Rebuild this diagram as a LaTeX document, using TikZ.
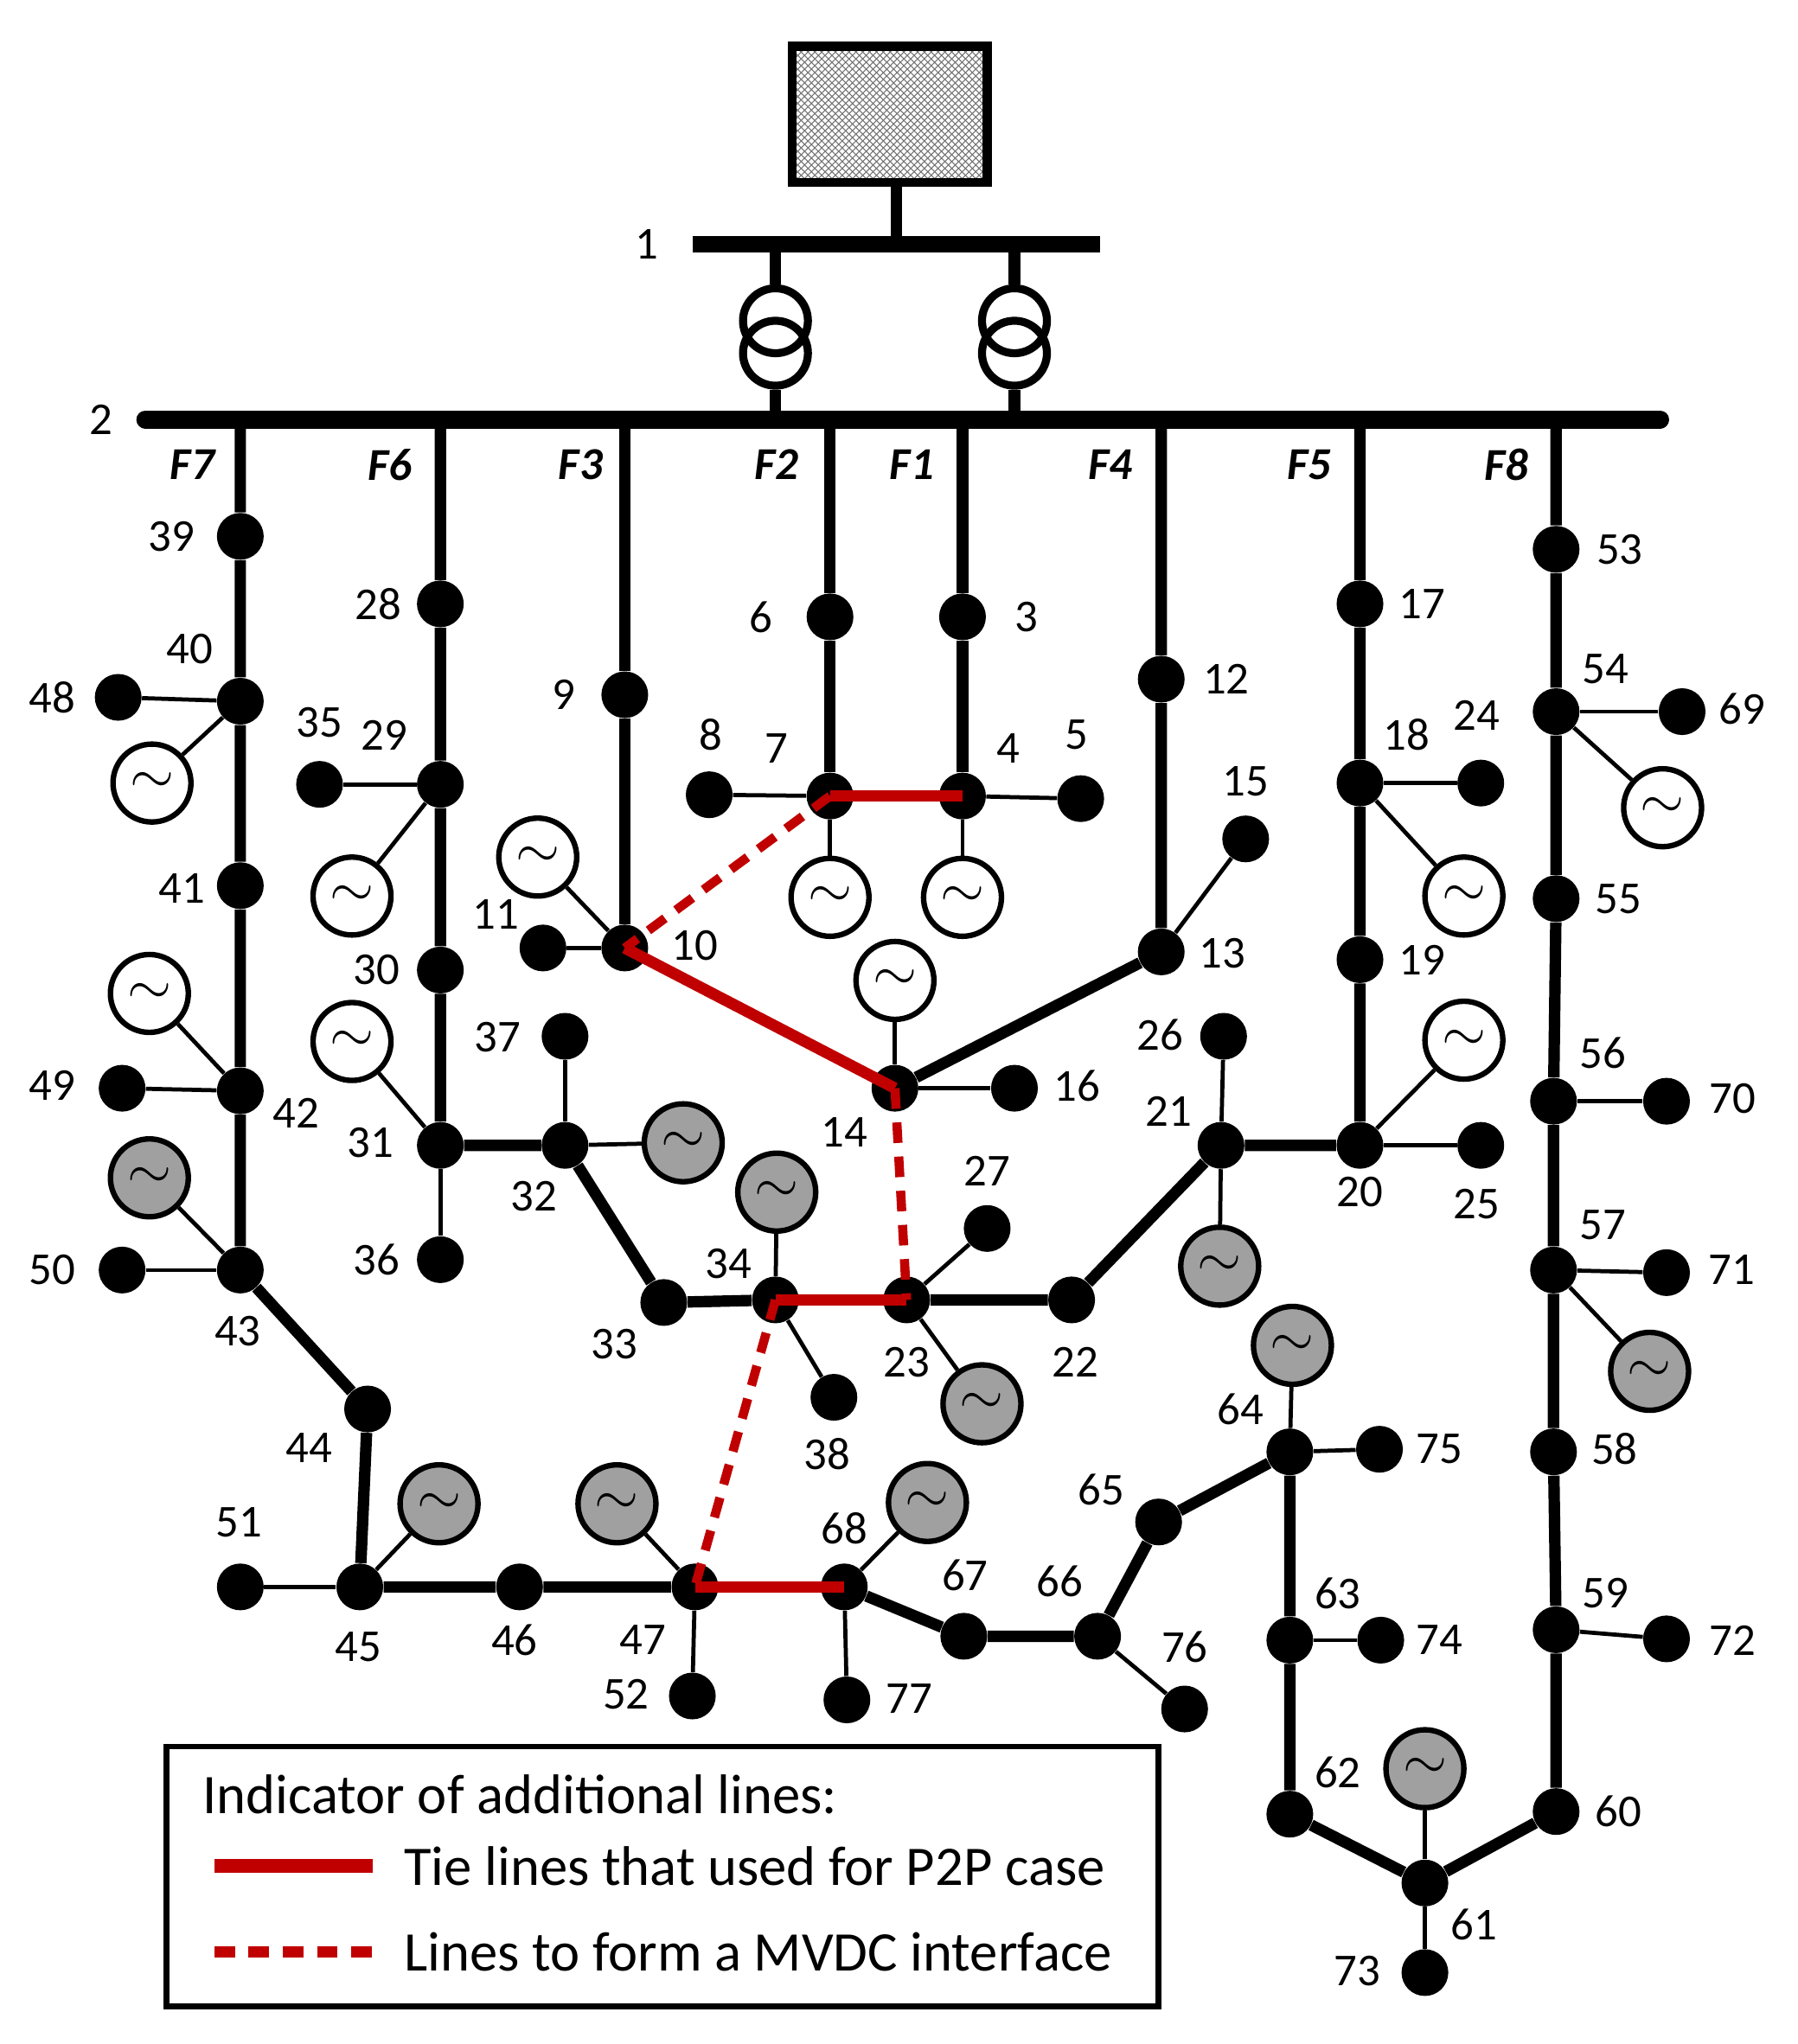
\documentclass[tikz,border=0pt]{standalone}
\usepackage{fontspec}
\setmainfont{Carlito}
\usetikzlibrary{patterns}
\definecolor{tred}{RGB}{192,0,0}
\definecolor{ggray}{RGB}{160,160,160}
\begin{document}
\begin{tikzpicture}[x=0.02cm,y=-0.02cm,
 dot/.style={circle,fill=black,inner sep=0pt,minimum size=0.72cm},
 gen/.style={circle,draw=black,line width=2.4pt,inner sep=0pt,minimum size=1.2cm,font=\fontsize{34}{34}\selectfont},
 lab/.style={font=\fontsize{20}{24}\selectfont},
 fl/.style={font=\fontsize{20}{24}\selectfont\bfseries\itshape},
 thk/.style={line width=5pt},
 thn/.style={line width=1.8pt},
 tie/.style={line width=5pt,tred},
 mv/.style={line width=4pt,tred,dash pattern=on 9pt off 6pt}]
\useasboundingbox (0,0) rectangle (1384,1574);
% substation
\node[draw,line width=4pt,fill=gray!35,pattern=crosshatch,pattern color=gray!90!black,minimum width=3.0cm,minimum height=2.1cm,inner sep=0pt] (sub) at (685,88) {};
\coordinate (b1l) at (533,188); \coordinate (b1r) at (847,188);
\coordinate (b1s) at (690,188);
\draw[line width=7pt] (b1l)--(b1r);
\draw[thk] (sub.south -| b1s)--(b1s);
\node[lab] (l1) at (498,188) {1};
\coordinate (b2l) at (112,323); \coordinate (b2r) at (1278,323);
\draw[line width=8pt,line cap=round] (b2l)--(b2r);
\node[lab] (l2) at (78,323) {2};
% transformers
\foreach \t/\x in {ta/597,tb/781}{
 \node[circle,draw,line width=3.5pt,minimum size=1.0cm,inner sep=0pt] (\t1) at (\x,247) {};
 \node[circle,draw,line width=3.5pt,minimum size=1.0cm,inner sep=0pt] (\t2) at (\x,272) {};
 \coordinate (\t u) at (\x,188); \coordinate (\t d) at (\x,323);
 \draw[thk] (\t u)--(\t1.north); \draw[thk] (\t2.south)--(\t d);
}
% feeder labels
\foreach \n/\x in {F7/148,F6/300,F3/447,F2/598,F1/702,F4/855,F5/1008,F8/1160}
 \node[fl] (\n) at (\x,358) {\n};
% dots
\foreach \n/\x/\y/\lx/\ly in {
39/185/413/132/413, 40/185/540/146/500, 48/91/537/40/537, 41/185/682/140/684,
42/185/840/228/857, 49/94/838/40/836, 43/185/978/183/1025, 50/94/978/40/978,
44/283/1085/238/1115, 45/277/1222/276/1268, 51/185/1222/184/1172, 46/400/1222/396/1263,
47/535/1222/495/1263, 52/533/1306/482/1305, 68/650/1222/650/1177, 77/652/1309/700/1308,
67/742/1260/743/1213, 66/845/1260/816/1218, 76/912/1316/912/1268, 65/892/1172/848/1147,
64/993/1118/955/1085, 75/1062/1116/1108/1116, 63/993/1263/1030/1227, 74/1063/1263/1108/1263,
62/993/1397/1030/1365, 61/1097/1450/1135/1482, 73/1097/1519/1045/1518, 60/1198/1395/1246/1395,
59/1198/1255/1236/1227, 72/1283/1262/1334/1263, 58/1196/1118/1243/1116, 57/1196/978/1234/943,
71/1283/980/1333/978, 56/1196/848/1234/811, 70/1283/848/1334/846, 55/1198/692/1246/692,
54/1198/548/1236/515, 69/1295/548/1341/546, 53/1198/423/1247/423,
17/1047/465/1095/465, 18/1047/603/1083/566, 24/1140/603/1137/551, 19/1047/739/1095/739,
20/1047/882/1047/918, 25/1140/882/1137/927, 21/940/882/900/856, 26/942/798/893/797,
22/825/1001/828/1049, 23/698/1001/698/1049, 27/760/946/760/902, 34/597/1001/561/973,
38/642/1076/637/1120, 33/511/1003/473/1035, 32/435/882/411/921, 37/435/798/383/799,
31/339/882/285/880, 36/339/970/290/970, 30/339/747/290/747, 29/339/604/296/566,
35/246/604/246/556, 28/339/465/291/465, 9/481/535/434/535, 10/481/730/535/728,
11/418/730/382/704, 14/689/838/650/872, 16/781/838/829/836, 13/894/733/941/734,
15/959/646/959/602, 12/894/523/944/523, 6/639/475/586/475, 7/639/613/598/576,
8/546/612/547/566, 3/741/475/790/475, 4/741/613/776/576, 5/832/615/829/566}
{\node[dot] (n\n) at (\x,\y) {}; \node[lab] (l\n) at (\lx,\ly) {\n};}
% generators
\foreach \n/\x/\y/\f in {g40/117/603/white, g42/115/765/white, g43/115/907/ggray, g45/338/1158/ggray,
 g47/475/1158/ggray, g68/714/1157/ggray, g64/995/1036/ggray, g61/1097/1362/ggray, g57/1270/1056/ggray,
 g54/1280/622/white, g18/1127/690/white, g20/1127/801/white, g21/939/975/ggray, g23/756/1081/ggray,
 g34/598/918/ggray, g32/526/880/ggray, g31/271/802/white, g29/271/690/white, g10/414/660/white,
 g14/689/755/white, g7/639/691/white, g4/741/691/white}
 \node[gen,fill=\f] (\n) at (\x,\y) {$\sim$};
% bus taps
\foreach \c/\x in {c7/185,c6/339,c3/481,c2/639,c1/741,c4/894,c5/1047,c8/1198}
 \coordinate (\c) at (\x,323);
% thick lines
\draw[thk] (c7)--(n39)--(n40)--(n41)--(n42)--(n43)--(n44)--(n45)--(n46)--(n47);
\draw[thk] (n68)--(n67)--(n66)--(n65)--(n64)--(n63)--(n62)--(n61)--(n60)--(n59)--(n58)--(n57)--(n56)--(n55)--(n54)--(n53)--(c8);
\draw[thk] (c6)--(n28)--(n29)--(n30)--(n31)--(n32)--(n33)--(n34);
\draw[thk] (n23)--(n22)--(n21)--(n20)--(n19)--(n18)--(n17)--(c5);
\draw[thk] (c3)--(n9)--(n10);
\draw[thk] (n14)--(n13)--(n12)--(c4);
\draw[thk] (c2)--(n6)--(n7);
\draw[thk] (n4)--(n3)--(c1);
% tie lines
\draw[tie] (n7.center)--(n4.center);
\draw[tie] (n10.center)--(n14.center);
\draw[tie] (n34.center)--(n23.center);
\draw[tie] (n47.center)--(n68.center);
\draw[mv] (n7.center)--(n10.center);
\draw[mv] (n14.center)--(n23.center);
\draw[mv] (n34.center)--(n47.center);
% thin lines
\foreach \a/\b in {48/40,49/42,50/43,51/45,52/47,77/68,76/66,75/64,74/63,73/61,72/59,71/57,70/56,69/54,
 24/18,25/20,26/21,27/23,38/34,37/32,36/31,35/29,11/10,16/14,15/13,8/7,5/4}
 \draw[thn] (n\a)--(n\b);
\foreach \a/\b in {g40/40,g42/42,g43/43,g45/45,g47/47,g68/68,g64/64,g61/61,g57/57,g54/54,g18/18,g20/20,
 g21/21,g23/23,g34/34,g32/32,g31/31,g29/29,g10/10,g14/14,g7/7,g4/4}
 \draw[thn] (\a)--(n\b);
% legend
\node[draw,line width=2.5pt,minimum width=15.28cm,minimum height=4.0cm,inner sep=0pt] (leg) at (510,1445) {};
\node[anchor=west,font=\fontsize{24.5}{28}\selectfont] (lt) at (150,1382) {Indicator of additional lines:};
\coordinate (s1) at (165,1437); \coordinate (e1) at (287,1437);
\coordinate (s2) at (165,1503); \coordinate (e2) at (287,1503);
\draw[tie,line width=6pt] (s1)--(e1);
\draw[mv,line width=5pt] (s2)--(e2);
\node[anchor=west,font=\fontsize{24.5}{28}\selectfont] (lt1) at (305,1437) {Tie lines that used for P2P case};
\node[anchor=west,font=\fontsize{24.5}{28}\selectfont] (lt2) at (305,1503) {Lines to form a MVDC interface};
\end{tikzpicture}
\end{document}
